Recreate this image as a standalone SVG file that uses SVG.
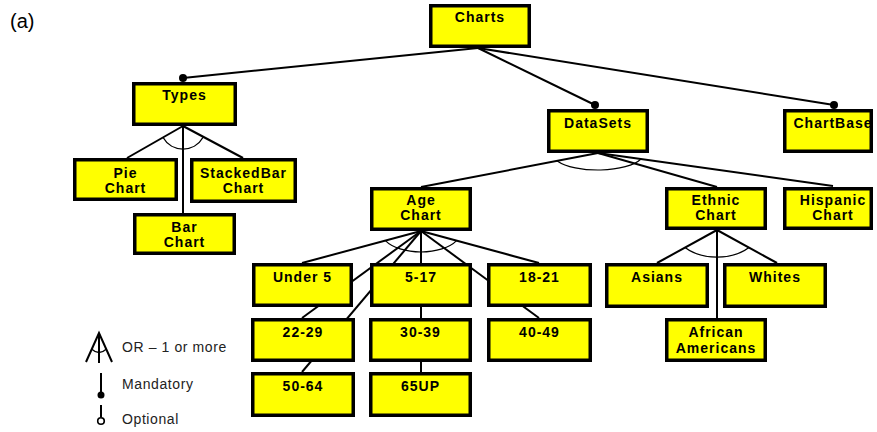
<svg xmlns="http://www.w3.org/2000/svg" width="877" height="432" viewBox="0 0 877 432">
<style>
.box{fill:#FFFF00;stroke:#000;stroke-width:3.5}
.lbl{font-family:"Liberation Sans",Arial,sans-serif;font-weight:bold;font-size:14px;letter-spacing:1px;text-anchor:middle;fill:#000}
.ln{stroke:#000;stroke-width:2;fill:none}
.arc{stroke:#000;stroke-width:1.2;fill:none}
.leg{font-family:"Liberation Sans",Arial,sans-serif;font-size:14px;letter-spacing:0.6px;fill:#222}
</style>
<rect width="877" height="432" fill="#fff"/>
<text x="10" y="28" font-family="Liberation Sans, Arial, sans-serif" font-size="20" fill="#000">(a)</text>
<g id="connectors">
<line class="ln" x1="478" y1="48" x2="183" y2="78"/>
<line class="ln" x1="478" y1="48" x2="595" y2="105"/>
<line class="ln" x1="478" y1="48" x2="834" y2="105"/>
<circle cx="183" cy="78" r="4"/>
<circle cx="595" cy="105" r="4"/>
<circle cx="834" cy="105" r="4"/>
<line class="ln" x1="183" y1="126" x2="127" y2="158"/>
<line class="ln" x1="183" y1="126" x2="243" y2="158"/>
<line class="ln" x1="183" y1="126" x2="183" y2="213"/>
<path class="arc" d="M163,137.4 A23,23 0 0 0 203,137.4"/>
<line class="ln" x1="598" y1="153" x2="421" y2="187"/>
<line class="ln" x1="598" y1="153" x2="717" y2="187"/>
<line class="ln" x1="598" y1="153" x2="833" y2="186"/>
<path class="arc" d="M557.2,160.9 A46,17 0 0 0 641,159"/>
<line class="ln" x1="421" y1="231" x2="302" y2="263"/>
<line class="ln" x1="421" y1="231" x2="302" y2="318"/>
<line class="ln" x1="421" y1="231" x2="302" y2="372"/>
<line class="ln" x1="421" y1="231" x2="421" y2="372"/>
<line class="ln" x1="421" y1="231" x2="539" y2="263"/>
<line class="ln" x1="421" y1="231" x2="539" y2="318"/>
<path class="arc" d="M385.4,240.6 A40,21 0 0 0 456.6,240.6"/>
<line class="ln" x1="717" y1="230" x2="657" y2="263"/>
<line class="ln" x1="717" y1="230" x2="777" y2="263"/>
<line class="ln" x1="717" y1="230" x2="717" y2="318"/>
<path class="arc" d="M685,247.6 A42,27 0 0 0 749,247.6"/>
</g>
<g id="n-charts"><rect class="box" x="430.75" y="5.75" width="98.5" height="40.5"/><text class="lbl" x="480" y="22">Charts</text></g>
<g id="n-types"><rect class="box" x="133.75" y="83.75" width="101.5" height="40.5"/><text class="lbl" x="184.5" y="100">Types</text></g>
<g id="n-datasets"><rect class="box" x="548.75" y="110.75" width="98.5" height="40.5"/><text class="lbl" x="598" y="128">DataSets</text></g>
<g id="n-chartbase"><rect class="box" x="784.75" y="110.75" width="86.5" height="40.5"/><text class="lbl" x="833" y="128">ChartBase</text></g>
<g id="n-pie"><rect class="box" x="74.75" y="159.75" width="101.5" height="39.5"/><text class="lbl" x="125.5" y="178">Pie</text><text class="lbl" x="125.5" y="193">Chart</text></g>
<g id="n-stackedbar"><rect class="box" x="191.75" y="159.75" width="103.5" height="41.5"/><text class="lbl" x="243.5" y="178">StackedBar</text><text class="lbl" x="243.5" y="193">Chart</text></g>
<g id="n-bar"><rect class="box" x="134.75" y="214.75" width="99.5" height="38.5"/><text class="lbl" x="184.5" y="232">Bar</text><text class="lbl" x="184.5" y="247">Chart</text></g>
<g id="n-age"><rect class="box" x="371.75" y="188.75" width="98.5" height="40.5"/><text class="lbl" x="421" y="205">Age</text><text class="lbl" x="421" y="220">Chart</text></g>
<g id="n-ethnic"><rect class="box" x="666.75" y="188.75" width="98.5" height="39.5"/><text class="lbl" x="716" y="205">Ethnic</text><text class="lbl" x="716" y="220">Chart</text></g>
<g id="n-hispanic"><rect class="box" x="784.75" y="188.75" width="86.5" height="39.5"/><text class="lbl" x="833" y="205">Hispanic</text><text class="lbl" x="833" y="220">Chart</text></g>
<g id="n-under5"><rect class="box" x="253.75" y="264.75" width="97.5" height="40.5"/><text class="lbl" x="302.5" y="282">Under 5</text></g>
<g id="n-5-17"><rect class="box" x="371.75" y="264.75" width="98.5" height="40.5"/><text class="lbl" x="421" y="282">5-17</text></g>
<g id="n-18-21"><rect class="box" x="488.75" y="264.75" width="101.5" height="40.5"/><text class="lbl" x="539.5" y="282">18-21</text></g>
<g id="n-22-29"><rect class="box" x="252.75" y="319.75" width="100.5" height="40.5"/><text class="lbl" x="303" y="337">22-29</text></g>
<g id="n-30-39"><rect class="box" x="370.75" y="319.75" width="99.5" height="40.5"/><text class="lbl" x="420.5" y="337">30-39</text></g>
<g id="n-40-49"><rect class="box" x="488.75" y="319.75" width="101.5" height="40.5"/><text class="lbl" x="539.5" y="337">40-49</text></g>
<g id="n-50-64"><rect class="box" x="252.75" y="373.75" width="100.5" height="41.5"/><text class="lbl" x="303" y="391">50-64</text></g>
<g id="n-65up"><rect class="box" x="370.75" y="373.75" width="99.5" height="41.5"/><text class="lbl" x="420.5" y="391">65UP</text></g>
<g id="n-asians"><rect class="box" x="606.75" y="264.75" width="100.5" height="41.5"/><text class="lbl" x="657" y="282">Asians</text></g>
<g id="n-whites"><rect class="box" x="724.75" y="264.75" width="100.5" height="41.5"/><text class="lbl" x="775" y="282">Whites</text></g>
<g id="n-african"><rect class="box" x="666.75" y="319.75" width="98.5" height="40.5"/><text class="lbl" x="716" y="337">African</text><text class="lbl" x="716" y="353">Americans</text></g>
<g id="legend">
<path class="ln" d="M86,362 L99,333 L112,362 M99,333 L99,363"/>
<path class="arc" d="M91.5,349 Q99,356 106.5,349"/>
<text class="leg" x="122" y="352">OR – 1 or more</text>
<line class="ln" x1="101" y1="373" x2="101" y2="392"/>
<circle cx="101" cy="395" r="3.5"/>
<text class="leg" x="122" y="389">Mandatory</text>
<line class="ln" x1="101" y1="405" x2="101" y2="417"/>
<circle cx="101" cy="421" r="3.3" fill="#fff" stroke="#000" stroke-width="1.6"/>
<text class="leg" x="122" y="424">Optional</text>
</g>
</svg>
